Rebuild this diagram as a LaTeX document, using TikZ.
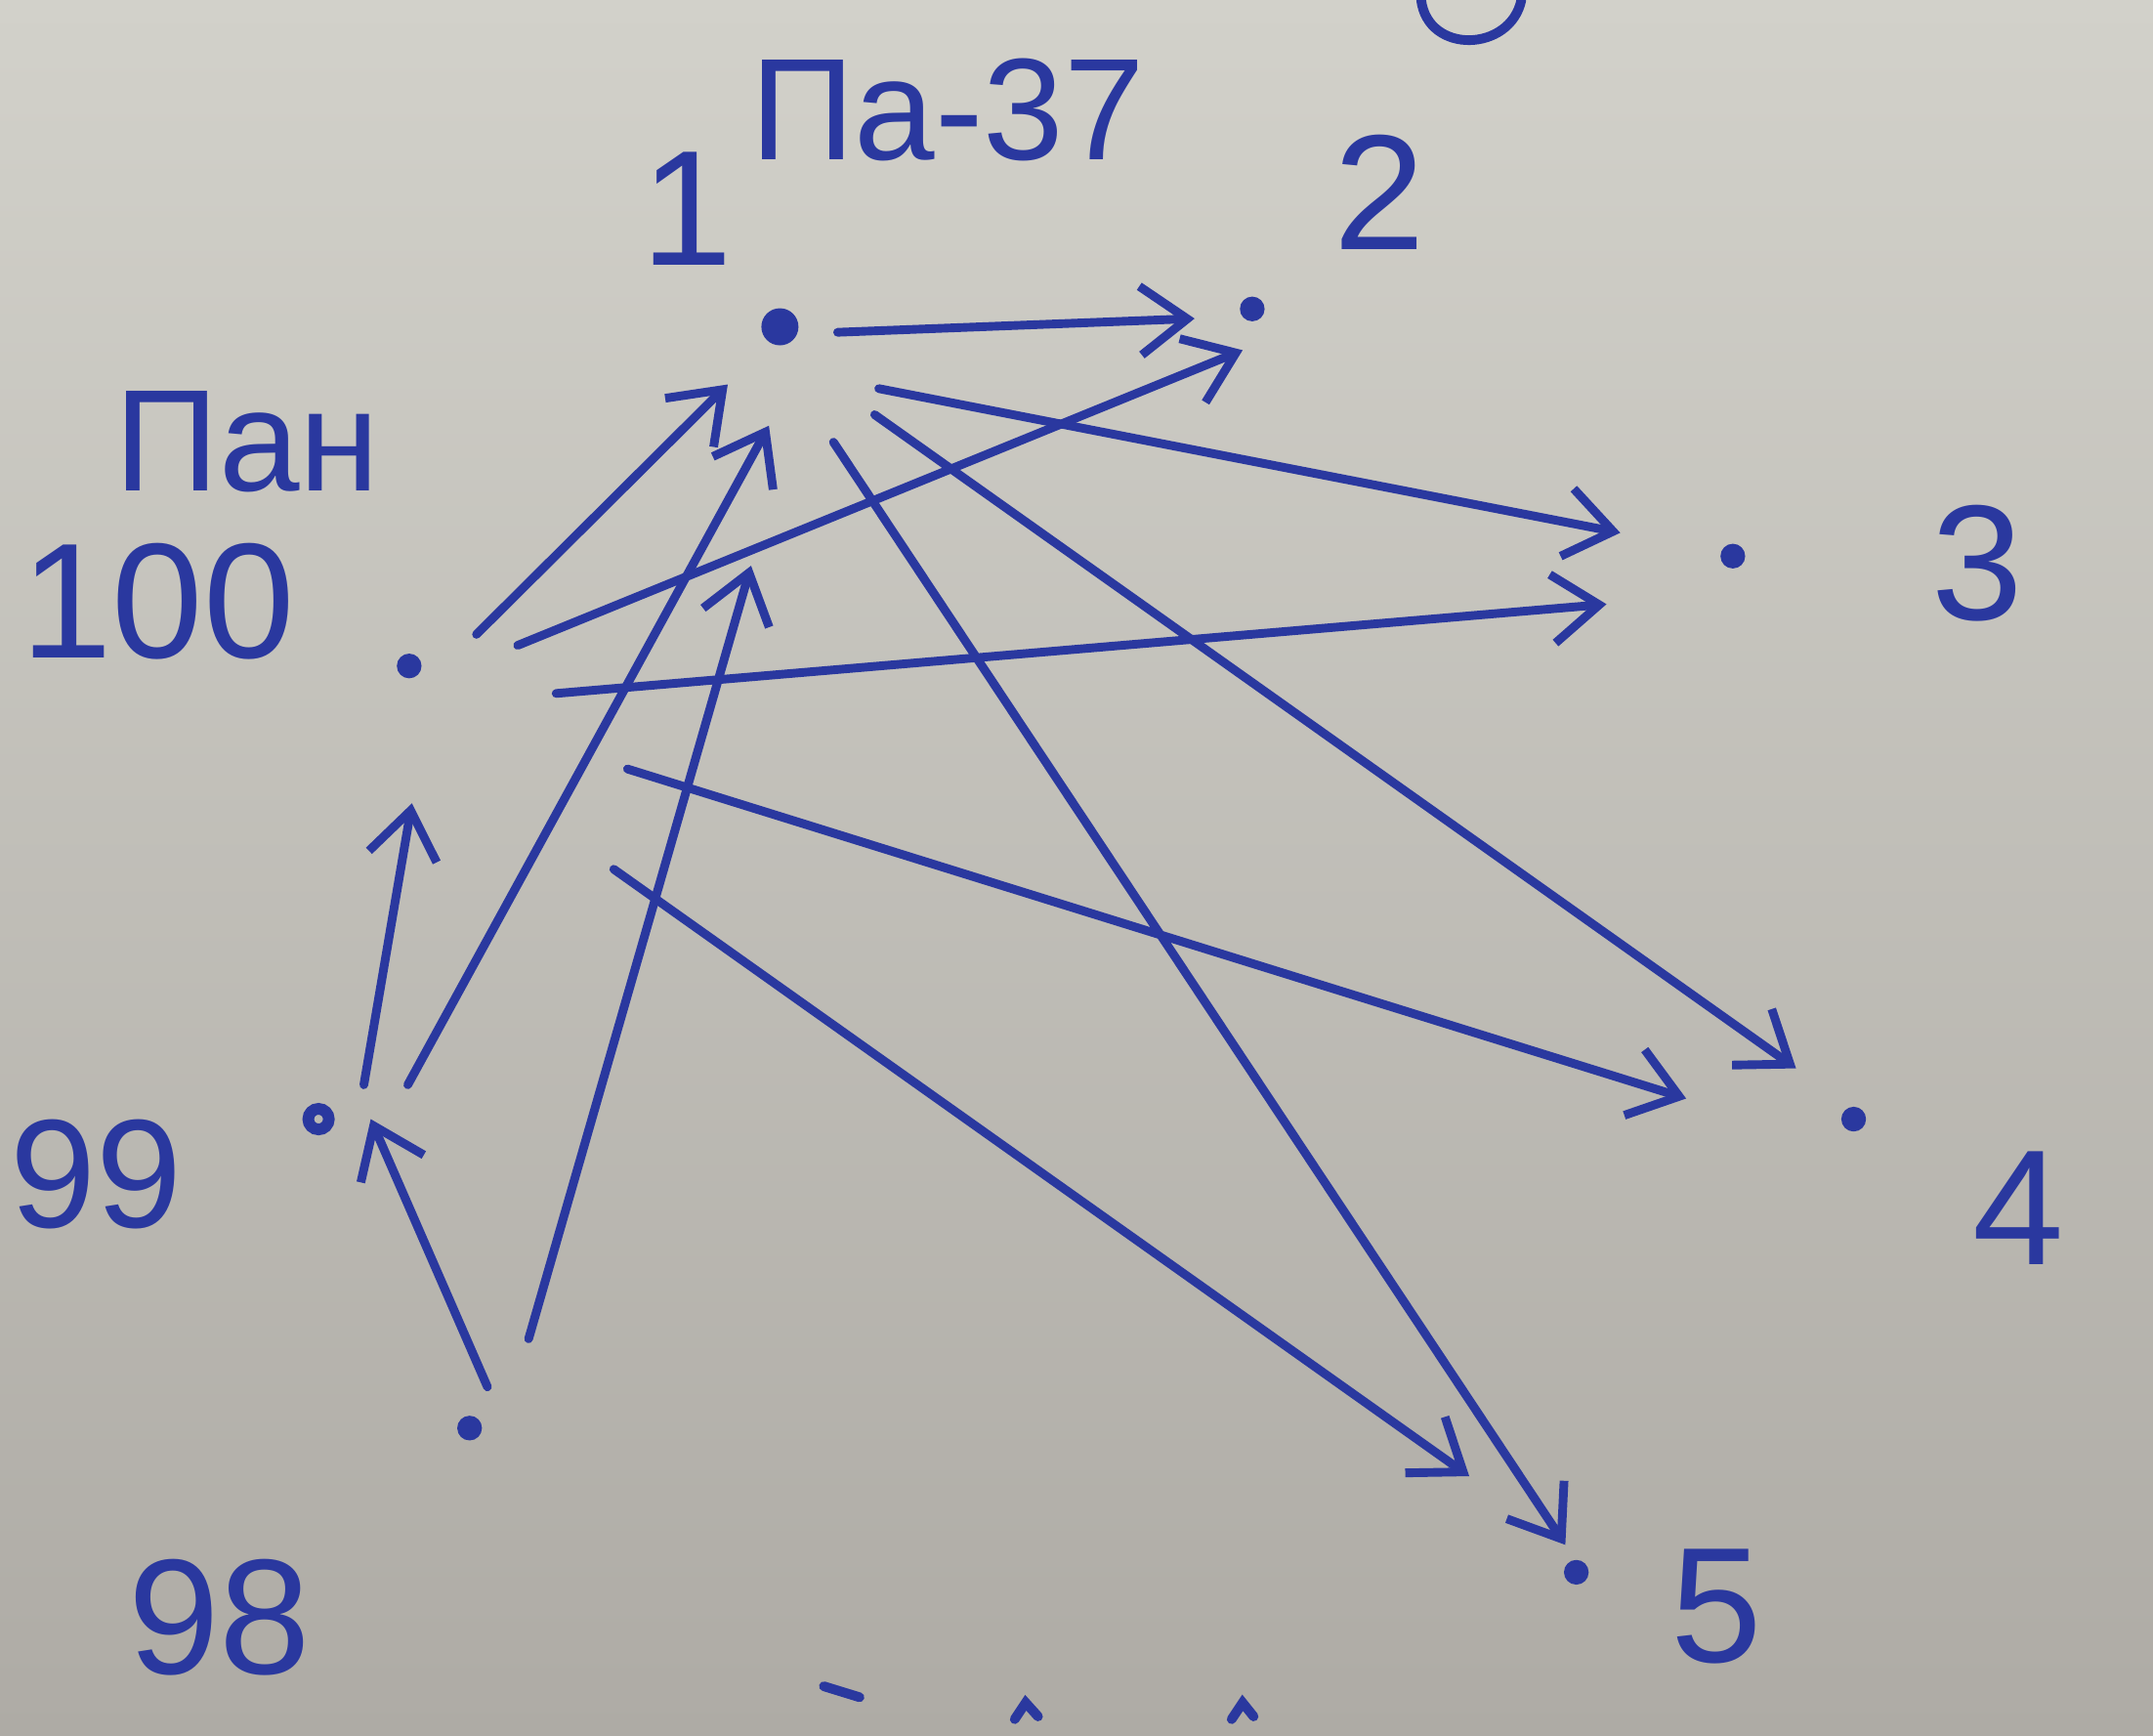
\documentclass[tikz,border=0pt]{standalone}
\usepackage{fontspec}
\setmainfont{Liberation Sans}
\usepackage{tikz}
\usetikzlibrary{arrows.meta,positioning}
\definecolor{penInk}{HTML}{2A389F}
\definecolor{paperTop}{HTML}{D2D1CA}
\definecolor{paperBot}{HTML}{AEABA5}
\tikzset{
  vdot/.style={circle,fill=penInk,inner sep=0pt,minimum size=0.18cm},
  vdotbig/.style={vdot,minimum size=0.27cm},
  vring/.style={circle,draw=penInk,line width=2.4pt,inner sep=0pt,
    minimum size=0.15cm},
  numtxt/.style={text=penInk,font=\fontsize{34}{36}\selectfont,inner sep=0pt},
  wordtxt/.style={text=penInk,font=\fontsize{30}{32}\selectfont,inner sep=0pt},
  arr/.style={-{Straight Barb[length=3.4mm,width=5mm]},line width=1.8pt,
    color=penInk,line cap=round,line join=round},
  pen/.style={line width=2pt,color=penInk,line cap=round},
}
\begin{document}
\begin{tikzpicture}[x=0.01cm,y=-0.01cm]
  \clip (0,0) rectangle (1568,1264);
  \shade[top color=paperTop,bottom color=paperBot] (0,0) rectangle (1568,1264);

  % vertices
  \node[vdotbig] (n1) at (568,238) {};
  \node[vdot] (n2) at (912,225) {};
  \node[vdot] (n3) at (1262,405) {};
  \node[vdot] (n4) at (1350,815) {};
  \node[vdot] (n5) at (1148,1145) {};
  \node[vdot] (n100) at (298,485) {};
  \node[vring] (n99) at (232,815) {};
  \node[vdot] (n98) at (342,1040) {};

  % labels
  \node[wordtxt] (title) at (690,80) {Па-37};
  \node[wordtxt] (pan) at (180,322) {Пан};
  \node[numtxt] (l100) at (115,438) {100};
  \node[numtxt] (l1) at (500,152) {1};
  \node[numtxt] (l2) at (1005,140) {2};
  \node[numtxt] (l3) at (1440,410) {3};
  \node[numtxt] (l4) at (1470,880) {4};
  \node[numtxt] (l5) at (1250,1170) {5};
  \node[numtxt,font=\fontsize{32}{34}\selectfont] (l99) at (70,855) {99};
  \node[numtxt] (l98) at (160,1178) {98};

  % out of 1
  \draw[arr] ([shift={(42,4)}]n1.center) -- ([shift={(-42,7)}]n2.center);
  \draw[arr] ([shift={(72,45)}]n1.center) -- ([shift={(-82,-17)}]n3.center);
  \draw[arr] ([shift={(69,64)}]n1.center) -- ([shift={(-42,-37)}]n4.center);
  \draw[arr] ([shift={(39,84)}]n1.center) -- ([shift={(-8,-20)}]n5.center);
  % out of 100
  \draw[arr] ([shift={(49,-23)}]n100.center) -- ([shift={(-38,42)}]n1.center);
  \draw[arr] ([shift={(79,-15)}]n100.center) -- ([shift={(-7,30)}]n2.center);
  \draw[arr] ([shift={(107,20)}]n100.center) -- ([shift={(-92,35)}]n3.center);
  \draw[arr] ([shift={(159,75)}]n100.center) -- ([shift={(-122,-15)}]n4.center);
  \draw[arr] ([shift={(149,148)}]n100.center) -- ([shift={(-78,-70)}]n5.center);
  % out of 99 and 98
  \draw[arr] ([shift={(33,-25)}]n99.center) -- ([shift={(2,100)}]n100.center);
  \draw[arr] ([shift={(65,-25)}]n99.center) -- ([shift={(-8,72)}]n1.center);
  \draw[arr] ([shift={(13,-30)}]n98.center) -- ([shift={(38,0)}]n99.center);
  \draw[arr] ([shift={(43,-65)}]n98.center) -- ([shift={(-21,174)}]n1.center);

  % cut-off strokes at the edges
  \draw[pen] (1035,0) .. controls (1040,40) and (1100,38) .. (1108,0);
  \draw[pen] (600,1228) -- (626,1236);
  \draw[pen] (739,1252) -- (747,1240) -- (756,1250);
  \draw[pen] (897,1252) -- (905,1240) -- (913,1250);
\end{tikzpicture}
\end{document}
